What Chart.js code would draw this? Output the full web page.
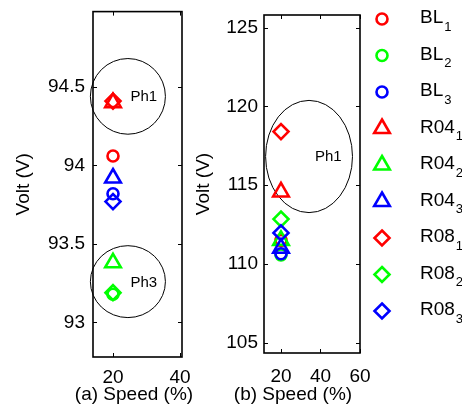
<!DOCTYPE html>
<html lang="en">
<head>
<meta charset="UTF-8">
<title>Volt vs Speed</title>
<script src="https://cdn.jsdelivr.net/npm/chart.js"></script>
<style>
    body { margin: 0; background: #fff; }
    .wrap { position: relative; width: 462px; height: 414px; overflow: hidden; }
    canvas { position: absolute; top: 0; }
    #chartA { left: 0; }
    #chartB { left: 190px; }
</style>
</head>
<body>
<div class="wrap">
    <canvas id="chartA" width="200" height="414"></canvas>
    <canvas id="chartB" width="272" height="414"></canvas>
</div>
<script>
// series: BL / R04 / R08, phases 1..3
const seriesNames = ['BL', 'BL', 'BL', 'R04', 'R04', 'R04', 'R08', 'R08', 'R08'];
const seriesSubs = ['1', '2', '3', '1', '2', '3', '1', '2', '3'];
const seriesColors = ['#ff0000', '#00ff00', '#0000ff', '#ff0000', '#00ff00', '#0000ff', '#ff0000', '#00ff00', '#0000ff'];
const seriesShapes = ['circle', 'circle', 'circle', 'triangle', 'triangle', 'triangle', 'rectRot', 'rectRot', 'rectRot'];

const speed = [20, 20, 20, 20, 20, 20, 20, 20, 20];
const voltA = [94.06, 93.18, 93.82, 94.40, 93.38, 93.92, 94.41, 93.19, 93.77];
const voltB = [111.5, 110.58, 110.65, 114.57, 111.5, 111.0, 118.4, 112.85, 111.97];

const ticksAX = [20, 40];
const ticksAY = [93, 93.5, 94, 94.5];
const ticksBX = [20, 40, 60];
const ticksBY = [105, 110, 115, 120, 125];

// phase groupings drawn as ellipses (data units)
const ellipsesA = [
    { label: 'Ph1', cx: 24.45, cy: 94.44, rx: 11.2, ry: 0.241, tx: 25.2, ty: 94.44 },
    { label: 'Ph3', cx: 24.45, cy: 93.26, rx: 11.2, ry: 0.229, tx: 25.2, ty: 93.25 }
];
const ellipsesB = [
    { label: 'Ph1', cx: 34.2, cy: 116.82, rx: 22.0, ry: 3.56, tx: 37.2, ty: 116.8 }
];

const FONT = 'Liberation Sans, Arial, sans-serif';
Chart.defaults.font.family = FONT;
Chart.defaults.color = '#000';

const markerRadius = { circle: 5.5, triangle: 9, rectRot: 7.5 };

function marker(ctx, style, x, y, r) {
    ctx.beginPath();
    if (style === 'circle') {
        ctx.arc(x, y, r, 0, Math.PI * 2);
    } else if (style === 'triangle') {
        ctx.moveTo(x, y - r);
        ctx.lineTo(x + r * 0.866, y + r / 2);
        ctx.lineTo(x - r * 0.866, y + r / 2);
        ctx.closePath();
    } else {
        ctx.moveTo(x, y - r);
        ctx.lineTo(x + r, y);
        ctx.lineTo(x, y + r);
        ctx.lineTo(x - r, y);
        ctx.closePath();
    }
    ctx.stroke();
}

// box, inward ticks, ellipses, x title
const framePlugin = {
    id: 'frame',
    beforeDatasetsDraw(chart, args, opts) {
        const { ctx, scales: { x, y } } = chart;
        ctx.save();
        ctx.strokeStyle = '#000';
        ctx.lineWidth = 1;
        ctx.fillStyle = '#000';
        ctx.font = '15px ' + FONT;
        ctx.textBaseline = 'middle';
        (opts.ellipses || []).forEach(e => {
            const cx = x.getPixelForValue(e.cx), cy = y.getPixelForValue(e.cy);
            const rx = Math.abs(x.getPixelForValue(e.cx + e.rx) - cx);
            const ry = Math.abs(y.getPixelForValue(e.cy + e.ry) - cy);
            ctx.beginPath();
            ctx.ellipse(cx, cy, rx, ry, 0, 0, Math.PI * 2);
            ctx.stroke();
            ctx.fillText(e.label, x.getPixelForValue(e.tx), y.getPixelForValue(e.ty));
        });
        ctx.restore();
    },
    afterDraw(chart, args, opts) {
        const { ctx, chartArea: a, scales: { x, y } } = chart;
        ctx.save();
        ctx.strokeStyle = '#000';
        ctx.lineWidth = 1.6;
        ctx.strokeRect(a.left, a.top, a.right - a.left, a.bottom - a.top);
        ctx.lineWidth = 1;
        const tl = 4;
        ctx.beginPath();
        x.ticks.forEach(t => {
            const px = Math.round(x.getPixelForValue(t.value)) + 0.5;
            ctx.moveTo(px, a.bottom); ctx.lineTo(px, a.bottom - tl);
            ctx.moveTo(px, a.top); ctx.lineTo(px, a.top + tl);
        });
        y.ticks.forEach(t => {
            const py = Math.round(y.getPixelForValue(t.value)) + 0.5;
            ctx.moveTo(a.left, py); ctx.lineTo(a.left + tl, py);
            ctx.moveTo(a.right, py); ctx.lineTo(a.right - tl, py);
        });
        ctx.stroke();
        ctx.fillStyle = '#000';
        ctx.font = '19px ' + FONT;
        ctx.textAlign = 'center';
        ctx.textBaseline = 'middle';
        ctx.fillText(opts.xTitle, opts.xTitleX, opts.xTitleY);
        ctx.restore();
    }
};

// legend with subscripted labels
const subLegendPlugin = {
    id: 'subLegend',
    afterDraw(chart, args, opts) {
        if (!opts.display) return;
        const ctx = chart.ctx;
        chart.data.datasets.forEach((ds, i) => {
            const yy = opts.top + i * opts.step;
            ctx.save();
            ctx.strokeStyle = ds.borderColor;
            ctx.lineWidth = ds.pointBorderWidth;
            marker(ctx, ds.pointStyle, opts.markerX, yy, ds.pointRadius);
            ctx.fillStyle = '#000';
            ctx.textBaseline = 'middle';
            ctx.font = '19px ' + FONT;
            ctx.fillText(seriesNames[i], opts.textX, yy - 1);
            const w = ctx.measureText(seriesNames[i]).width;
            ctx.font = '13px ' + FONT;
            ctx.fillText(seriesSubs[i], opts.textX + w + 1, yy + 8);
            ctx.restore();
        });
    }
};

function makeDatasets(volt) {
    return seriesNames.map((n, i) => ({
        label: n + seriesSubs[i],
        data: [{ x: speed[i], y: volt[i] }],
        pointStyle: seriesShapes[i],
        pointRadius: markerRadius[seriesShapes[i]],
        pointHoverRadius: markerRadius[seriesShapes[i]],
        borderColor: seriesColors[i],
        backgroundColor: 'rgba(0,0,0,0)',
        pointBorderWidth: 2.6,
        showLine: false,
        order: seriesNames.length - i
    }));
}

function makeChart(id, volt, cfg) {
    return new Chart(document.getElementById(id), {
        type: 'scatter',
        data: { datasets: makeDatasets(volt) },
        plugins: [framePlugin, subLegendPlugin],
        options: {
            responsive: false,
            animation: false,
            devicePixelRatio: 1,
            layout: { padding: { top: cfg.top, right: cfg.right, left: 0, bottom: 0 } },
            plugins: {
                legend: { display: false },
                tooltip: { enabled: false },
                frame: { ellipses: cfg.ellipses, xTitle: cfg.xTitle, xTitleX: cfg.xTitleX, xTitleY: 395 },
                subLegend: cfg.legend
            },
            scales: {
                x: {
                    type: 'linear',
                    min: cfg.xMin, max: cfg.xMax,
                    grid: { display: false, drawTicks: false },
                    border: { display: false },
                    ticks: { font: { size: 19 }, padding: cfg.xPad, maxRotation: 0, autoSkip: false },
                    afterBuildTicks: s => { s.ticks = cfg.xTicks.map(v => ({ value: v })); },
                    afterFit: s => { s.height = 414 - cfg.bottom; s.paddingLeft = 0; s.paddingRight = 0; }
                },
                y: {
                    type: 'linear',
                    min: cfg.yMin, max: cfg.yMax,
                    grid: { display: false, drawTicks: false },
                    border: { display: false },
                    ticks: { font: { size: 19 }, padding: cfg.yPad, callback: v => String(v), autoSkip: false },
                    afterBuildTicks: s => { s.ticks = cfg.yTicks.map(v => ({ value: v })); },
                    afterFit: s => { s.width = cfg.left; s.paddingTop = 0; s.paddingBottom = 0; },
                    title: { display: true, text: 'Volt (V)', font: { size: 19 }, padding: { top: cfg.yTitlePad, bottom: 0 } }
                }
            }
        }
    });
}

makeChart('chartA', voltA, {
    top: 11, bottom: 357, left: 93, right: 18,
    xMin: 14.03, xMax: 40.6, yMin: 92.78, yMax: 94.98,
    xTicks: ticksAX, yTicks: ticksAY, xPad: 9, yPad: 8, yTitlePad: 12,
    ellipses: ellipsesA, xTitle: '(a) Speed (%)', xTitleX: 134,
    legend: { display: false }
});

makeChart('chartB', voltB, {
    top: 15, bottom: 353, left: 74, right: 102,
    xMin: 11.4, xMax: 60, yMin: 104.35, yMax: 125.8,
    xTicks: ticksBX, yTicks: ticksBY, xPad: 12, yPad: 6, yTitlePad: 2,
    ellipses: ellipsesB, xTitle: '(b) Speed (%)', xTitleX: 103,
    legend: { display: true, markerX: 192, textX: 230, top: 19, step: 36.5 }
});
</script>
</body>
</html>
